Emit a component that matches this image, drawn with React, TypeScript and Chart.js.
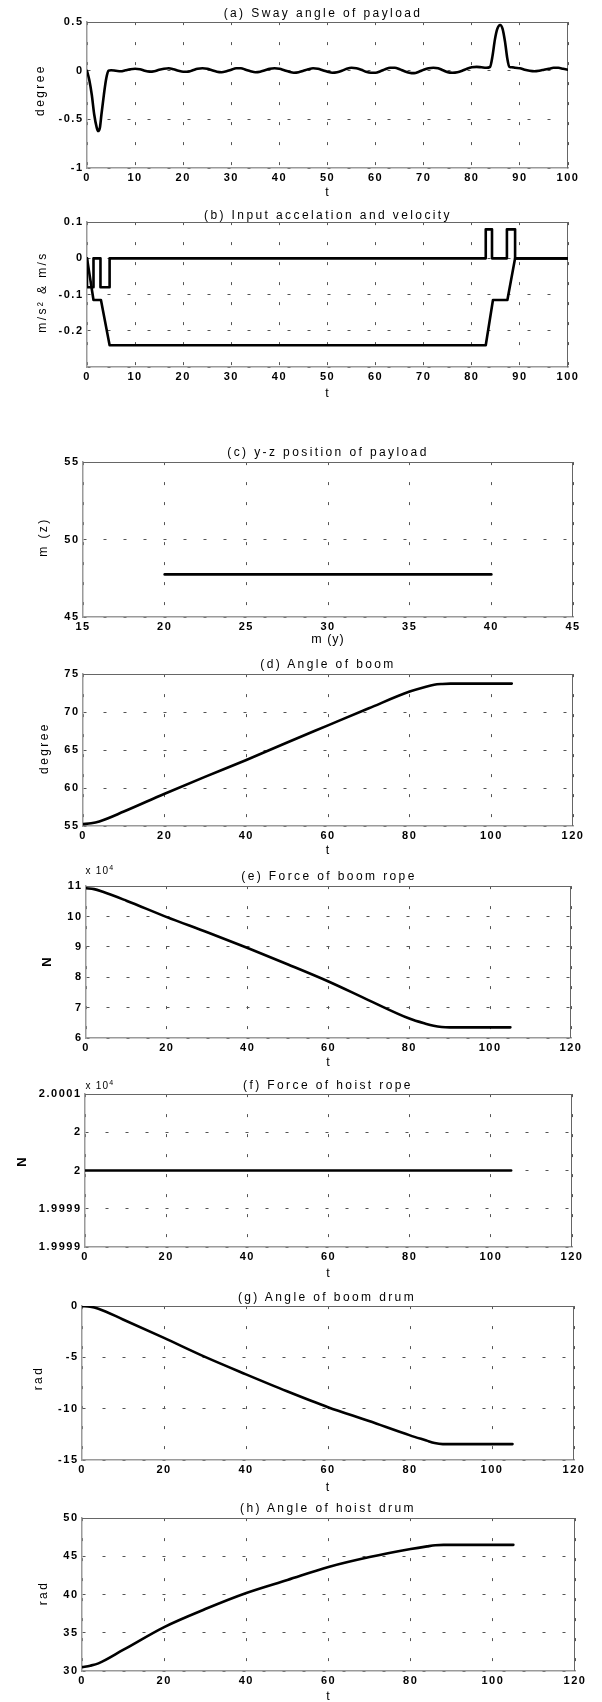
import React, { useEffect, useRef } from 'react';
import { Chart, registerables } from 'chart.js';

Chart.register(...registerables);

const FONT = "'Liberation Sans', Arial, Helvetica, sans-serif";

// ---------------- data ----------------
// (a) sway angle of payload
const swayT = [0, 0.5, 1, 1.5, 2, 2.3, 2.7, 3, 3.5, 4, 4.5, 5, 6, 7, 8, 9, 10, 11, 12, 13, 14, 15, 16, 17, 18, 19, 20, 21, 22, 23, 24, 25, 26, 27, 28, 29, 30, 31, 32, 33, 34, 35, 36, 37, 38, 39, 40, 41, 42, 43, 44, 45, 46, 47, 48, 49, 50, 51, 52, 53, 54, 55, 56, 57, 58, 59, 60, 61, 62, 63, 64, 65, 66, 67, 68, 69, 70, 71, 72, 73, 74, 75, 76, 77, 78, 79, 80, 81, 82, 83, 83.8, 84.3, 84.8, 85.3, 85.9, 86.4, 86.9, 87.4, 87.8, 88.5, 89, 90, 91, 92, 93, 94, 95, 96, 97, 98, 99, 100];
const swayDeg = [0, -0.1, -0.25, -0.45, -0.58, -0.62, -0.58, -0.45, -0.25, -0.08, 0, 0.005, 0, -0.005, 0.005, 0.015, 0.02, 0.015, 0, -0.01, -0.005, 0.01, 0.02, 0.025, 0.015, 0, -0.01, -0.01, 0.005, 0.02, 0.025, 0.02, 0.005, -0.01, -0.015, -0.005, 0.01, 0.025, 0.025, 0.01, -0.005, -0.015, -0.01, 0.005, 0.02, 0.025, 0.02, 0.005, -0.01, -0.02, -0.015, 0, 0.015, 0.025, 0.02, 0.005, -0.01, -0.02, -0.015, 0, 0.02, 0.03, 0.025, 0.01, -0.01, -0.02, -0.02, -0.005, 0.015, 0.03, 0.03, 0.015, -0.005, -0.02, -0.025, -0.01, 0.01, 0.025, 0.03, 0.025, 0.005, -0.015, -0.02, -0.015, 0, 0.02, 0.035, 0.04, 0.035, 0.03, 0.04, 0.15, 0.32, 0.43, 0.47, 0.43, 0.3, 0.12, 0.04, 0.035, 0.03, 0.025, 0.01, 0, -0.005, 0, 0.01, 0.02, 0.03, 0.03, 0.02, 0.01];

// (b) input acceleration and velocity
const accT = [0, 0, 1.35, 1.35, 2.8, 2.8, 4.7, 4.7, 82.9, 82.9, 84.2, 84.2, 87.3, 87.3, 89.0, 89.0, 100];
const accV = [0, -0.08, -0.08, 0, 0, -0.08, -0.08, 0, 0, 0.08, 0.08, 0, 0, 0.08, 0.08, 0, 0];
const velT = [0, 1.35, 2.9, 4.7, 82.9, 84.4, 87.4, 89.0, 100];
const velV = [0, -0.115, -0.115, -0.24, -0.24, -0.115, -0.115, 0, 0];

// (c) y-z position of payload
const posY = [20, 25, 30, 35, 40];
const posZ = [47.75, 47.75, 47.75, 47.75, 47.75];

// (d)-(h) share the same time samples
const simT = [0, 2, 4, 10, 20, 30, 40, 50, 60, 70, 80, 84, 86, 88, 90, 105];
const boomAngle = [55.25, 55.35, 55.6, 56.9, 59.25, 61.5, 63.7, 66.0, 68.25, 70.5, 72.7, 73.35, 73.6, 73.7, 73.75, 73.75];
const boomRopeForce = [10.93, 10.9, 10.82, 10.52, 9.98, 9.48, 8.96, 8.42, 7.86, 7.24, 6.64, 6.47, 6.4, 6.36, 6.35, 6.35];
const hoistRopeForce = [2, 2, 2, 2, 2, 2, 2, 2, 2, 2, 2, 2, 2, 2, 2, 2];
const boomDrum = [0, -0.05, -0.25, -1.3, -3.1, -4.95, -6.65, -8.3, -9.85, -11.2, -12.6, -13.1, -13.35, -13.45, -13.45, -13.45];
const hoistDrum = [30.5, 30.7, 31.0, 32.75, 35.75, 38.1, 40.2, 41.9, 43.6, 44.9, 45.95, 46.3, 46.45, 46.5, 46.5, 46.5];

// ---------------- ticks ----------------
const ticksT100 = [0, 10, 20, 30, 40, 50, 60, 70, 80, 90, 100];
const ticksT120 = [0, 20, 40, 60, 80, 100, 120];
const ticksSway = [-1, -0.5, 0, 0.5];
const ticksAcc = [-0.3, -0.2, -0.1, 0, 0.1];
const labelsAcc = ['', '-0.2', '-0.1', '0', '0.1'];
const ticksPosY = [15, 20, 25, 30, 35, 40, 45];
const ticksPosZ = [45, 50, 55];
const ticksBoom = [55, 60, 65, 70, 75];
const ticksRope = [6, 7, 8, 9, 10, 11];
const ticksHoist = [1.9999, 1.99995, 2, 2.00005, 2.0001];
const labelsHoist = ['1.9999', '1.9999', '2', '2', '2.0001'];
const ticksBoomDrum = [-15, -10, -5, 0];
const ticksHoistDrum = [30, 35, 40, 45, 50];

type Series = { x: number[]; y: number[]; smooth: boolean };
type Panel = {
  key: string;
  title: string;
  xLabel: string;
  yLabel: string;
  yBold?: boolean;
  mult?: [number, number];
  L: number; R: number; T: number; B: number;
  titleX: number; titleY: number;
  xLabY: number;
  yLab: [number, number];
  xMin: number; xMax: number; xTicks: number[];
  yMin: number; yMax: number; yTicks: number[]; yLabels?: string[];
  series: Series[];
};

const panels: Panel[] = [
  {
    key: 'a', title: '(a) Sway angle of payload', xLabel: 't', yLabel: 'degree',
    L: 87, R: 568, T: 22, B: 168, titleX: 323, titleY: 12.5, xLabY: 192, yLab: [40, 90],
    xMin: 0, xMax: 100, xTicks: ticksT100, yMin: -1, yMax: 0.5, yTicks: ticksSway,
    series: [{ x: swayT, y: swayDeg, smooth: true }],
  },
  {
    key: 'b', title: '(b) Input accelation and velocity', xLabel: 't', yLabel: 'm/s² & m/s',
    L: 87, R: 568, T: 222, B: 367, titleX: 328, titleY: 215, xLabY: 392.5, yLab: [42, 292],
    xMin: 0, xMax: 100, xTicks: ticksT100, yMin: -0.3, yMax: 0.1, yTicks: ticksAcc, yLabels: labelsAcc,
    series: [{ x: accT, y: accV, smooth: false }, { x: velT, y: velV, smooth: false }],
  },
  {
    key: 'c', title: '(c) y-z position of payload', xLabel: 'm  (y)', yLabel: 'm  (z)',
    L: 83, R: 573, T: 462, B: 617, titleX: 328, titleY: 452, xLabY: 639, yLab: [43, 537],
    xMin: 15, xMax: 45, xTicks: ticksPosY, yMin: 45, yMax: 55, yTicks: ticksPosZ,
    series: [{ x: posY, y: posZ, smooth: false }],
  },
  {
    key: 'd', title: '(d) Angle of boom', xLabel: 't', yLabel: 'degree',
    L: 83, R: 573, T: 674, B: 826, titleX: 328, titleY: 663.5, xLabY: 850, yLab: [44, 748],
    xMin: 0, xMax: 120, xTicks: ticksT120, yMin: 55, yMax: 75, yTicks: ticksBoom,
    series: [{ x: simT, y: boomAngle, smooth: true }],
  },
  {
    key: 'e', title: '(e) Force of boom rope', xLabel: 't', yLabel: 'N', yBold: true, mult: [100, 870],
    L: 86, R: 571, T: 886, B: 1038, titleX: 329, titleY: 876, xLabY: 1062, yLab: [46, 962],
    xMin: 0, xMax: 120, xTicks: ticksT120, yMin: 6, yMax: 11, yTicks: ticksRope,
    series: [{ x: simT, y: boomRopeForce, smooth: true }],
  },
  {
    key: 'f', title: '(f) Force of hoist rope', xLabel: 't', yLabel: 'N', yBold: true, mult: [100, 1085],
    L: 85, R: 572, T: 1094, B: 1247, titleX: 328, titleY: 1085, xLabY: 1273, yLab: [20.5, 1162],
    xMin: 0, xMax: 120, xTicks: ticksT120, yMin: 1.9999, yMax: 2.0001, yTicks: ticksHoist, yLabels: labelsHoist,
    series: [{ x: simT, y: hoistRopeForce, smooth: false }],
  },
  {
    key: 'g', title: '(g) Angle of boom drum', xLabel: 't', yLabel: 'rad',
    L: 82, R: 574, T: 1306, B: 1460, titleX: 327, titleY: 1297, xLabY: 1486.5, yLab: [38, 1378],
    xMin: 0, xMax: 120, xTicks: ticksT120, yMin: -15, yMax: 0, yTicks: ticksBoomDrum,
    series: [{ x: simT, y: boomDrum, smooth: true }],
  },
  {
    key: 'h', title: '(h) Angle of hoist drum', xLabel: 't', yLabel: 'rad',
    L: 82, R: 575, T: 1518, B: 1671, titleX: 328, titleY: 1508, xLabY: 1696, yLab: [43, 1593],
    xMin: 0, xMax: 120, xTicks: ticksT120, yMin: 30, yMax: 50, yTicks: ticksHoistDrum,
    series: [{ x: simT, y: hoistDrum, smooth: true }],
  },
];

const PAD_TOP = 10;
const X_AXIS_H = 24;
const GRID_COLOR = '#555';
const GRID_DASH = [3, 17];
const TICK_FONT = { family: FONT, size: 11, weight: 'bold' as const };

const boxPlugin = {
  id: 'boxAndSpacing',
  beforeDraw(chart: any) {
    chart.ctx.letterSpacing = '1.5px';
  },
  beforeDatasetsDraw(chart: any) {
    const { ctx, chartArea } = chart;
    const { left, top, right, bottom } = chartArea;
    ctx.save();
    ctx.strokeStyle = '#666';
    ctx.lineWidth = 1;
    ctx.setLineDash([]);
    ctx.beginPath();
    ctx.moveTo(left, Math.round(top) + 0.5);
    ctx.lineTo(right, Math.round(top) + 0.5);
    ctx.moveTo(Math.round(right) - 0.5, top);
    ctx.lineTo(Math.round(right) - 0.5, bottom);
    ctx.stroke();
    ctx.restore();
  },
};

function PanelChart({ p }: { p: Panel }) {
  const ref = useRef<HTMLCanvasElement | null>(null);
  const top = p.T - PAD_TOP;
  const height = p.B - p.T + PAD_TOP + X_AXIS_H;

  useEffect(() => {
    const canvas = ref.current;
    if (!canvas) return;
    const chart = new Chart(canvas, {
      type: 'line',
      data: {
        datasets: p.series.map((s) => ({
          data: s.x.map((x, i) => ({ x, y: s.y[i] })),
          borderColor: '#000',
          borderWidth: 2.6,
          pointRadius: 0,
          fill: false,
          tension: s.smooth ? 0.4 : 0,
          cubicInterpolationMode: s.smooth ? ('monotone' as const) : ('default' as const),
          borderJoinStyle: 'round' as const,
          borderCapStyle: 'round' as const,
        })),
      },
      options: {
        animation: false,
        responsive: false,
        devicePixelRatio: 1,
        layout: { padding: { top: PAD_TOP, left: 0, right: 602 - p.R, bottom: 0 } },
        plugins: {
          legend: { display: false },
          tooltip: { enabled: false },
          title: { display: false },
        },
        scales: {
          x: {
            type: 'linear',
            min: p.xMin,
            max: p.xMax,
            afterBuildTicks: (s: any) => {
              s.ticks = p.xTicks.map((v) => ({ value: v }));
            },
            afterFit: (s: any) => {
              s.height = X_AXIS_H;
            },
            ticks: {
              padding: 3.5,
              color: '#000',
              font: TICK_FONT,
              maxRotation: 0,
              autoSkip: false,
              callback: (v: any) => String(v),
            },
            grid: { color: GRID_COLOR, lineWidth: 1, drawTicks: false },
            border: { display: true, color: '#9a9a9a', width: 1.5, dash: GRID_DASH },
          },
          y: {
            type: 'linear',
            min: p.yMin,
            max: p.yMax,
            afterBuildTicks: (s: any) => {
              s.ticks = p.yTicks.map((v) => ({ value: v }));
            },
            afterFit: (s: any) => {
              s.width = p.L;
            },
            ticks: {
              padding: 3.5,
              color: '#000',
              font: TICK_FONT,
              autoSkip: false,
              callback: (v: any, i: number) => (p.yLabels ? p.yLabels[i] : String(v)),
            },
            grid: { color: GRID_COLOR, lineWidth: 1, drawTicks: false },
            border: { display: true, color: '#9a9a9a', width: 1.5, dash: GRID_DASH },
          },
        },
      },
      plugins: [boxPlugin],
    });
    return () => chart.destroy();
  }, [p]);

  return (
    <canvas
      ref={ref}
      width={602}
      height={height}
      style={{ position: 'absolute', left: 0, top, width: 602, height, display: 'block' }}
    />
  );
}

function Txt(props: {
  x: number; y: number; text: React.ReactNode; size?: number; spacing?: number; rotate?: boolean; bold?: boolean;
}) {
  const { x, y, text, size = 12, spacing = 2.4, rotate = false, bold = false } = props;
  return (
    <div
      style={{
        position: 'absolute',
        left: x,
        top: y,
        transform: `translate(-50%, -50%)${rotate ? ' rotate(-90deg)' : ''}`,
        fontFamily: FONT,
        fontSize: size,
        fontWeight: bold ? 'bold' : 'normal',
        letterSpacing: spacing,
        whiteSpace: 'nowrap',
        lineHeight: 1,
        color: '#000',
      }}
    >
      {text}
    </div>
  );
}

export default function App() {
  return (
    <div style={{ position: 'absolute', left: 0, top: 0, width: 602, height: 1702, background: '#fff', overflow: 'hidden' }}>
      {panels.map((p) => (
        <PanelChart key={p.key} p={p} />
      ))}
      {panels.map((p) => (
        <React.Fragment key={'t' + p.key}>
          <Txt x={p.titleX} y={p.titleY} text={p.title} />
          <Txt x={(p.L + p.R) / 2} y={p.xLabY} text={p.xLabel} size={12.5} spacing={1} />
          <Txt
            x={p.yLab[0]}
            y={p.yLab[1]}
            text={p.yLabel}
            rotate
            bold={!!p.yBold}
            size={p.yBold ? 13 : 12}
            spacing={p.yBold ? 0 : 2.4}
          />
          {p.mult && (
            <Txt
              x={p.mult[0]}
              y={p.mult[1]}
              size={10}
              spacing={1.2}
              text={
                <span>
                  x 10<sup style={{ fontSize: 7, verticalAlign: 'super' }}>4</sup>
                </span>
              }
            />
          )}
        </React.Fragment>
      ))}
    </div>
  );
}
